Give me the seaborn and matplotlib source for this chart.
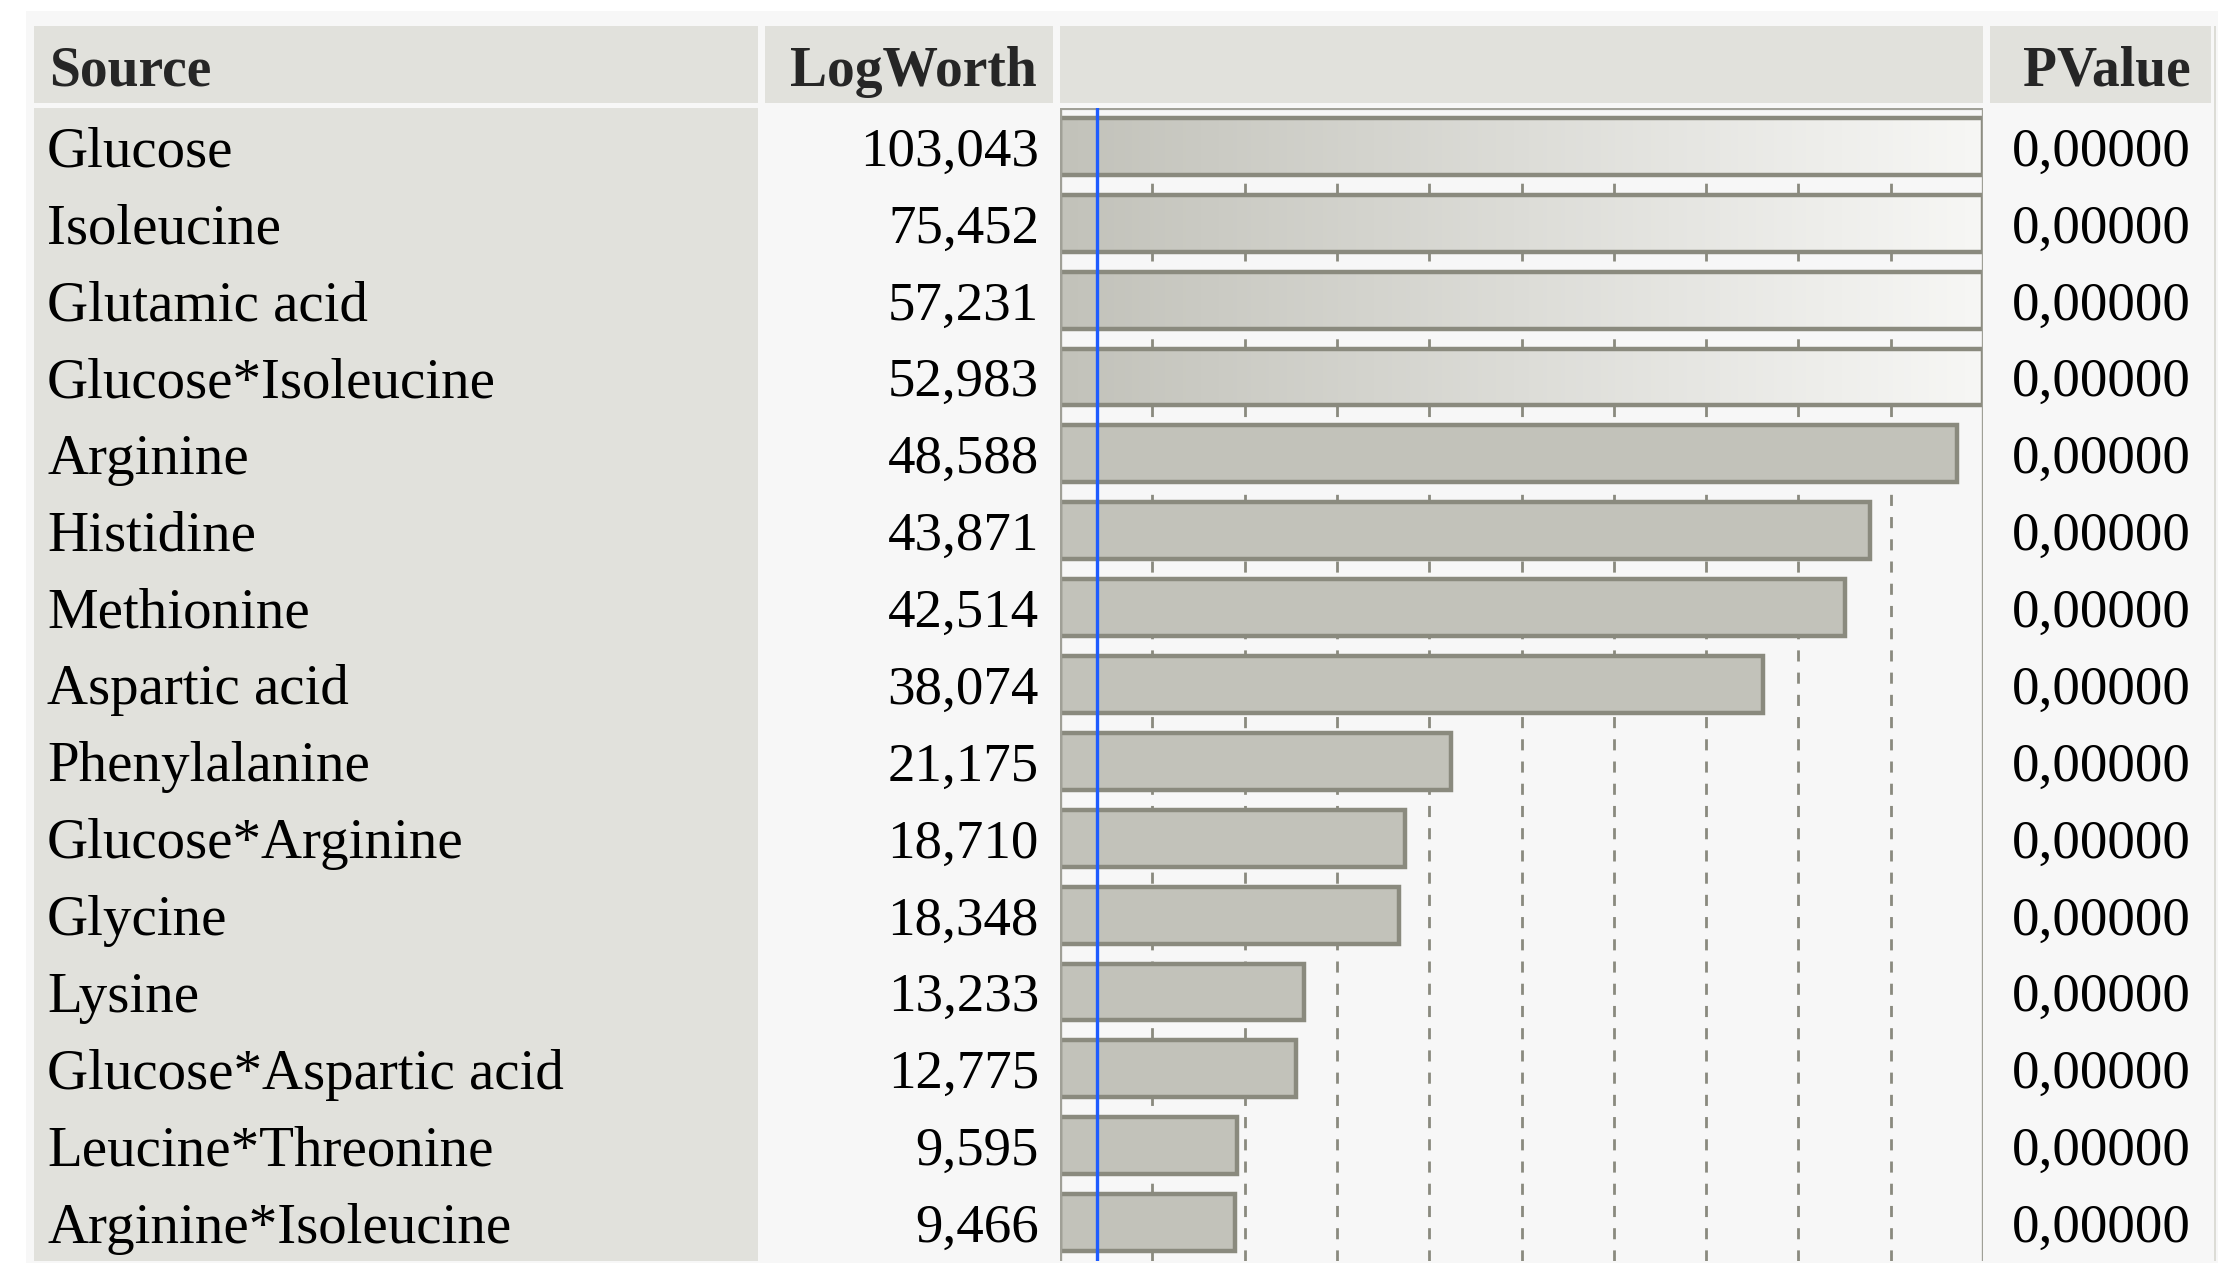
import numpy as np
import pandas as pd
import matplotlib
matplotlib.use('Agg')
import matplotlib.pyplot as plt
from matplotlib.patches import Rectangle
from matplotlib.colors import LinearSegmentedColormap
from matplotlib.transforms import blended_transform_factory
import seaborn as sns

# data
sources = ['Glucose', 'Isoleucine', 'Glutamic acid', 'Glucose*Isoleucine', 'Arginine',
           'Histidine', 'Methionine', 'Aspartic acid', 'Phenylalanine', 'Glucose*Arginine',
           'Glycine', 'Lysine', 'Glucose*Aspartic acid', 'Leucine*Threonine', 'Arginine*Isoleucine']
logworth = [103.043, 75.452, 57.231, 52.983, 48.588, 43.871, 42.514, 38.074,
            21.175, 18.710, 18.348, 13.233, 12.775, 9.595, 9.466]
pvalues = [0.00000, 0.00000, 0.00000, 0.00000, 0.00000, 0.00000, 0.00000, 0.00000,
           0.00000, 0.00000, 0.00000, 0.00000, 0.00000, 0.00000, 0.00000]
headers = ['Source', 'LogWorth', 'PValue']
axis_max = 50
grid_ticks = [5, 10, 15, 20, 25, 30, 35, 40, 45]
ref_logworth = 2.0  # blue reference line (p = 0.01)

df = pd.DataFrame({'Source': sources, 'LogWorth': logworth,
                   'Shown': np.minimum(logworth, axis_max)})

sns.set_theme(style='white')
plt.rcParams['font.family'] = ['Liberation Serif', 'DejaVu Serif']

W, H = 2237, 1281
fig = plt.figure(figsize=(W / 100, H / 100), dpi=100)
fig.patch.set_facecolor('white')


def box(x0, y0, x1, y1, color):
    # pixel box, y measured from top
    fig.patches.append(Rectangle((x0 / W, 1 - y1 / H), (x1 - x0) / W, (y1 - y0) / H,
                                 transform=fig.transFigure, facecolor=color,
                                 edgecolor='none', zorder=-5))


panel = '#f7f7f7'
cell = '#e1e1dc'
box(26, 11, 2218, 1263, panel)
# header cells
box(34, 26, 758, 103, cell)
box(765, 26, 1053, 103, cell)
box(1060, 26, 1983, 103, cell)
box(1990, 26, 2211, 103, cell)
# source column body
box(34, 108, 758, 1261, cell)
box(2214, 26, 2216, 1261, '#dcdcd6')

body_top, body_bot = 108, 1261
ax = fig.add_axes([1060 / W, 1 - body_bot / H, (1983 - 1060) / W, (body_bot - body_top) / H])
ax.set_facecolor('none')
ax.set_zorder(2)

for t in grid_ticks:
    ax.axvline(t, color='#8a8a7e', lw=2.0, ls=(0, (4, 4)), zorder=0.5)

sns.barplot(data=df, x='Shown', y='Source', orient='h', color='#c2c2ba',
            edgecolor='#8a8a7e', linewidth=3.2, width=0.74, saturation=1,
            ax=ax, zorder=2)

grad = LinearSegmentedColormap.from_list('g', ['#c2c2ba', '#f7f7f5'])
for p, v in zip(ax.patches, logworth):
    if v > axis_max:
        p.set_facecolor('none')
        y0 = p.get_y()
        y1 = y0 + p.get_height()
        im = ax.imshow(np.linspace(0, 1, 256)[None, :], cmap=grad, aspect='auto',
                       extent=[0, axis_max, y1, y0], zorder=1.5)
        im.set_clip_path(p)

ax.set_xlim(0, axis_max)
ax.set_ylim(len(sources) - 0.5, -0.5)
ax.axvline(0, color='#a0a097', lw=2.4, zorder=3)
ax.axvline(axis_max, color='#a0a097', lw=2.4, zorder=3)
ax.axhline(-0.5, color='#a0a097', lw=3, zorder=3)
ax.axvline(ref_logworth, color='#1f5cff', lw=2.4, zorder=4)
ax.set_xticks([])
ax.set_yticks([])
ax.set_xlabel('')
ax.set_ylabel('')
for s in ax.spines.values():
    s.set_visible(False)

fs = 41
tr = blended_transform_factory(fig.transFigure, ax.transData)
for i, (name, lw, pv) in enumerate(zip(sources, logworth, pvalues)):
    fig.text(47 / W, i, name, transform=tr, fontsize=fs, ha='left',
             va='center_baseline', color='black')
    fig.text(1039 / W, i, f'{lw:.3f}'.replace('.', ','), transform=tr, fontsize=fs - 1.5,
             ha='right', va='center_baseline', color='black')
    fig.text(2191 / W, i, f'{pv:.5f}'.replace('.', ','), transform=tr, fontsize=fs - 1.5,
             ha='right', va='center_baseline', color='black')

hy = 1 - 66 / H
fig.text(49 / W, hy, headers[0], fontsize=fs - 1, fontweight='bold', ha='left', va='center_baseline')
fig.text(1037 / W, hy, headers[1], fontsize=fs - 1, fontweight='bold', ha='right', va='center_baseline')
fig.text(2191 / W, hy, headers[2], fontsize=fs - 1, fontweight='bold', ha='right', va='center_baseline')

fig.savefig('out.png', dpi=100, facecolor='white')
plt.close(fig)
